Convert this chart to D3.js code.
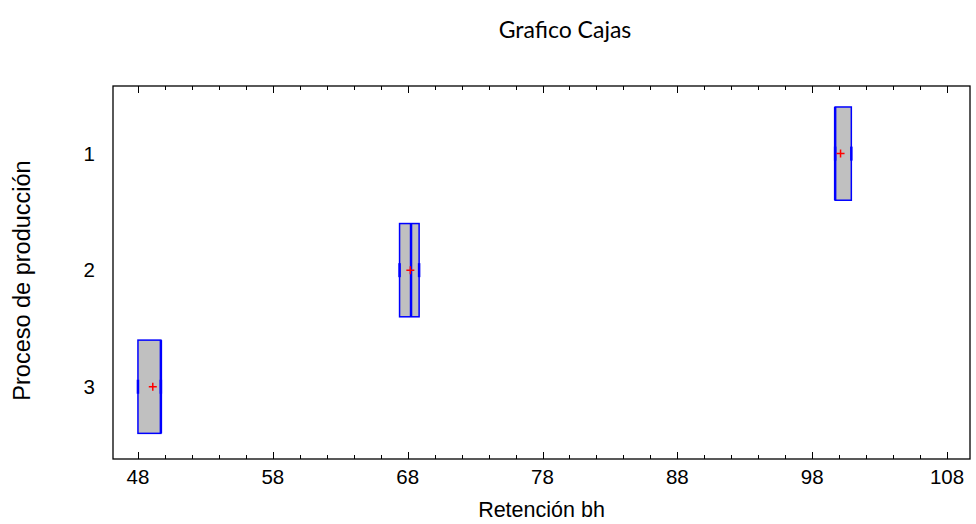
<!DOCTYPE html>
<html><head><meta charset="utf-8">
<script src="https://cdn.jsdelivr.net/npm/d3@7"></script>
<style>body{margin:0;background:#fff}</style>
</head><body>
<svg id="c" width="976" height="524"></svg>
<script>
const categories = ["1","2","3"];
const minVals    = [99.7, 67.4, 48.0];
const q1Vals     = [99.7, 67.4, 48.0];
const medianVals = [99.7, 68.25, 49.7];
const q3Vals     = [100.9, 68.85, 49.7];
const maxVals    = [100.9, 68.85, 49.7];
const meanVals   = [100.1, 68.2, 49.1];
const xTicks = [48, 58, 68, 78, 88, 98, 108];

const svg = d3.select("#c");
const L = 113, R = 970, T = 86, B = 459;
const x = d3.scaleLinear().domain([46.15, 109.7]).range([L, R]);
const y = d3.scaleLinear().domain([0.42, 3.62]).range([T, B]);
const half = 0.4 * (y(2) - y(1));
const sans = "Liberation Sans, Arial, sans-serif";

// frame
svg.append("rect").attr("x", L).attr("y", T).attr("width", R - L).attr("height", B - T)
  .attr("fill", "none").attr("stroke", "#000").attr("stroke-width", 1.3);

// x ticks (inward, top and bottom)
const minor = d3.range(48, 109, 2);
const g = svg.append("g").attr("stroke", "#000").attr("stroke-width", 1);
minor.forEach(v => {
  const len = (v - 48) % 10 === 0 ? 7 : 4;
  const px = Math.round(x(v)) + 0.5;
  g.append("line").attr("x1", px).attr("x2", px).attr("y1", B).attr("y2", B - len);
  g.append("line").attr("x1", px).attr("x2", px).attr("y1", T).attr("y2", T + len);
});
svg.append("g").selectAll("text").data(xTicks).join("text")
  .attr("x", d => x(d)).attr("y", B + 25).attr("text-anchor", "middle")
  .attr("font-family", sans).attr("font-size", 20.5)
  .text(d => d);

// y labels
svg.append("g").selectAll("text").data(categories).join("text")
  .attr("x", 95).attr("y", (d, i) => y(i + 1) + 7).attr("text-anchor", "end")
  .attr("font-family", sans).attr("font-size", 20.5)
  .text(d => d);

// titles
svg.append("text").attr("x", 565).attr("y", 38).attr("text-anchor", "middle")
  .attr("font-family", "Lato, Open Sans, sans-serif").attr("font-size", 23).text("Grafico Cajas");
svg.append("text").attr("x", (L + R) / 2).attr("y", 517).attr("text-anchor", "middle")
  .attr("font-family", sans).attr("font-size", 21.5).text("Retención bh");
svg.append("text").attr("transform", `translate(30,${(T + B) / 2 + 8}) rotate(-90)`).attr("text-anchor", "middle")
  .attr("font-family", sans).attr("font-size", 23.5).text("Proceso de producción");

// boxes
categories.forEach((c, i) => {
  const cy = y(i + 1);
  const gb = svg.append("g");
  gb.append("line").attr("x1", x(minVals[i])).attr("x2", x(q1Vals[i])).attr("y1", cy).attr("y2", cy)
    .attr("stroke", "#0000ff").attr("stroke-width", 1.5);
  gb.append("line").attr("x1", x(q3Vals[i])).attr("x2", x(maxVals[i])).attr("y1", cy).attr("y2", cy)
    .attr("stroke", "#0000ff").attr("stroke-width", 1.5);
  gb.append("rect").attr("x", x(q1Vals[i])).attr("y", cy - half)
    .attr("width", x(q3Vals[i]) - x(q1Vals[i])).attr("height", 2 * half)
    .attr("fill", "#c0c0c0").attr("stroke", "#0000ff").attr("stroke-width", 1.5);
  gb.append("line").attr("x1", x(medianVals[i])).attr("x2", x(medianVals[i]))
    .attr("y1", cy - half).attr("y2", cy + half).attr("stroke", "#0000ff").attr("stroke-width", 2.5);
  [minVals[i], maxVals[i]].forEach(v => {
    gb.append("line").attr("x1", x(v)).attr("x2", x(v)).attr("y1", cy - 7).attr("y2", cy + 7)
      .attr("stroke", "#0000ff").attr("stroke-width", 2.5);
  });
  const mx = x(meanVals[i]);
  gb.append("path").attr("d", `M${mx - 4},${cy}H${mx + 4}M${mx},${cy - 4}V${cy + 4}`)
    .attr("stroke", "#ff0000").attr("stroke-width", 1.5).attr("fill", "none");
});
</script>
</body></html>
